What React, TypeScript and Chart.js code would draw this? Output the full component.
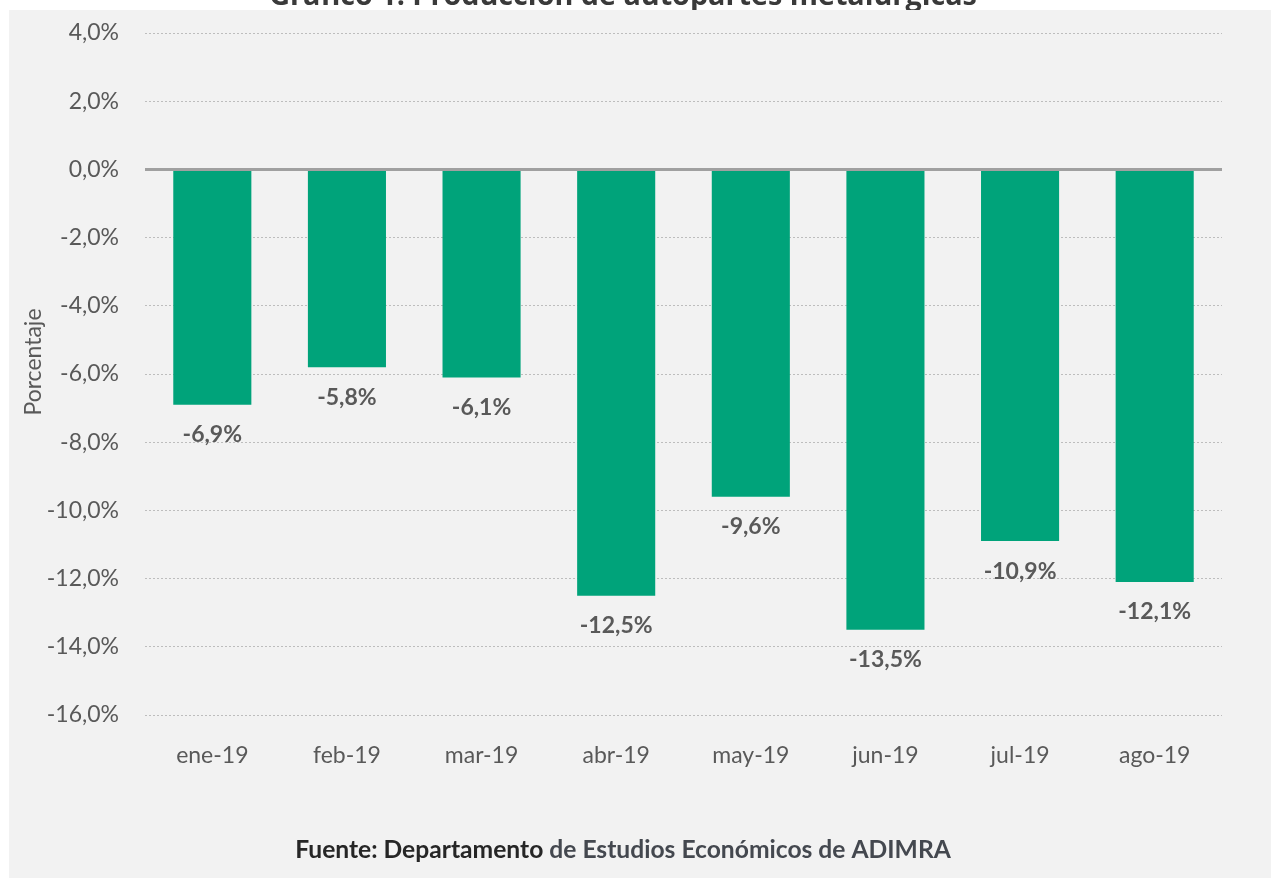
import { useEffect, useRef } from "react";
import { Chart, registerables } from "chart.js";

Chart.register(...registerables);

const categories = ["ene-19", "feb-19", "mar-19", "abr-19", "may-19", "jun-19", "jul-19", "ago-19"];
const values = [-6.9, -5.8, -6.1, -12.5, -9.6, -13.5, -10.9, -12.1];
const yMin = -16;
const yMax = 4;
const yStep = 2;
const titleText = "Gráfico 1: Producción de autopartes metalúrgicas";
const axisTitle = "Porcentaje";
const sourceBold = "Fuente: Departamento";
const sourceRest = " de Estudios Económicos de ADIMRA";

const FONT = "Lato, 'Open Sans', sans-serif";
const TEXT = "#595959";
const BAR = "#00A37A";

const fmt = (v: number) => v.toFixed(1).replace(".", ",") + "%";

export default function App() {
  const ref = useRef<HTMLCanvasElement | null>(null);

  useEffect(() => {
    if (!ref.current) return;

    const decor = {
      id: "decor",
      beforeDraw(chart: any) {
        const ctx = chart.ctx;
        ctx.save();
        ctx.fillStyle = "#ffffff";
        ctx.fillRect(0, 0, chart.width, chart.height);
        // cropped title
        ctx.font = `bold 100px 'Open Sans', sans-serif`;
        const w = ctx.measureText(titleText).width;
        const size = (100 * 708) / w;
        ctx.font = `bold ${size}px 'Open Sans', sans-serif`;
        ctx.fillStyle = "#3a3a3a";
        ctx.textAlign = "center";
        ctx.textBaseline = "alphabetic";
        ctx.fillText(titleText, 623, 5);
        // grey panel
        ctx.fillStyle = "#f2f2f2";
        ctx.fillRect(9, 10, chart.width - 9, chart.height - 10);
        ctx.restore();
      },
      afterDatasetsDraw(chart: any) {
        const ctx = chart.ctx;
        const area = chart.chartArea;
        const y0 = chart.scales.y.getPixelForValue(0);
        ctx.save();
        ctx.strokeStyle = "#a0a0a0";
        ctx.lineWidth = 3;
        ctx.beginPath();
        ctx.moveTo(area.left, y0);
        ctx.lineTo(area.right, y0);
        ctx.stroke();

        // data labels
        const meta = chart.getDatasetMeta(0);
        ctx.font = `bold 23px ${FONT}`;
        ctx.fillStyle = TEXT;
        ctx.textAlign = "center";
        ctx.textBaseline = "middle";
        meta.data.forEach((bar: any, i: number) => {
          ctx.fillText(fmt(values[i]), bar.x, bar.y + 30);
        });

        // axis title
        ctx.save();
        ctx.translate(34, 362);
        ctx.rotate(-Math.PI / 2);
        ctx.font = `23px ${FONT}`;
        ctx.fillStyle = TEXT;
        ctx.textAlign = "center";
        ctx.textBaseline = "middle";
        ctx.fillText(axisTitle, 0, 0);
        ctx.restore();

        // source
        ctx.font = `bold 100px ${FONT}`;
        const full = ctx.measureText(sourceBold + sourceRest).width;
        const fs = (100 * 656) / full;
        ctx.font = `bold ${fs}px ${FONT}`;
        const wb = ctx.measureText(sourceBold).width;
        const wr = ctx.measureText(sourceRest).width;
        const x0 = 623 - (wb + wr) / 2;
        ctx.textAlign = "left";
        ctx.textBaseline = "middle";
        ctx.fillStyle = "#262626";
        ctx.fillText(sourceBold, x0, 850);
        ctx.fillStyle = "#44484f";
        ctx.fillText(sourceRest, x0 + wb, 850);
        ctx.restore();
      },
    };

    const chart = new Chart(ref.current, {
      type: "bar",
      data: {
        labels: categories,
        datasets: [
          {
            data: values,
            backgroundColor: BAR,
            borderWidth: 0,
            categoryPercentage: 1,
            barPercentage: 0.58,
          },
        ],
      },
      options: {
        animation: false,
        responsive: false,
        maintainAspectRatio: false,
        devicePixelRatio: 1,
        layout: { padding: { left: 9, top: 33, right: 49, bottom: 83 } },
        plugins: {
          legend: { display: false },
          tooltip: { enabled: false },
          title: { display: false },
        },
        scales: {
          x: {
            grid: { display: false, drawTicks: false },
            border: { display: false },
            ticks: { color: TEXT, font: { family: FONT, size: 23 }, padding: 27 },
            afterFit: (s: any) => {
              s.height = 80;
              s.paddingLeft = 0;
              s.paddingRight = 0;
            },
          },
          y: {
            min: yMin,
            max: yMax,
            border: { display: false, dash: [2, 2] },
            grid: {
              drawTicks: false,
              color: (c: any) => (c.tick && c.tick.value === 0 ? "rgba(0,0,0,0)" : "#bdbdbd"),
              lineWidth: 1,
            },
            ticks: {
              stepSize: yStep,
              color: TEXT,
              font: { family: FONT, size: 23 },
              padding: 26,
              callback: (v: any) => fmt(Number(v)),
            },
            afterFit: (s: any) => {
              s.width = 136;
              s.paddingTop = 0;
              s.paddingBottom = 0;
            },
          },
        },
      },
      plugins: [decor],
    });

    return () => chart.destroy();
  }, []);

  return (
    <div style={{ position: "absolute", left: 0, top: 0, width: 1271, height: 878 }}>
      <canvas ref={ref} width={1271} height={878} style={{ display: "block", width: 1271, height: 878 }} />
    </div>
  );
}
